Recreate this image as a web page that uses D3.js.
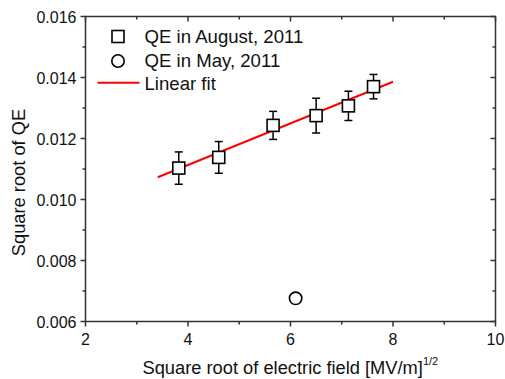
<!DOCTYPE html>
<html>
<head>
<meta charset="utf-8">
<script src="https://cdn.jsdelivr.net/npm/d3@7"></script>
<style>
  body { margin: 0; background: #fff; }
  text { font-family: "Liberation Sans", Arial, sans-serif; fill: #111; }
</style>
</head>
<body>
<div id="chart"></div>
<script>
// chart size
var width = 505,
    height = 379;
var margin = {top: 16.5, right: 9.5, bottom: 57.5, left: 85.5};

// August 2011 data (squares with error bars)
var augField = [3.82, 4.60, 5.66, 6.50, 7.13, 7.62];
var augQE    = [0.01103, 0.01138, 0.01243, 0.01275, 0.01307, 0.01370];
var augErr   = [0.00053, 0.00052, 0.00046, 0.00057, 0.00048, 0.00040];

// May 2011 data (circle)
var mayField = [6.10];
var mayQE    = [0.00676];

// linear fit end points
var fitField = [3.41, 8.0];
var fitQE    = [0.01073, 0.01386];

// ticks
var xTicks = [2, 4, 6, 8, 10];
var xMinor = [3, 5, 7, 9];
var yTicks = [0.006, 0.008, 0.010, 0.012, 0.014, 0.016];
var yMinor = [0.007, 0.009, 0.011, 0.013, 0.015];

var legendLabels = ["QE in August, 2011", "QE in May, 2011", "Linear fit"];

var svg = d3.select("#chart").append("svg")
    .attr("width", width)
    .attr("height", height);

var x = d3.scaleLinear().domain([2, 10]).range([margin.left, width - margin.right]);
var y = d3.scaleLinear().domain([0.006, 0.016]).range([height - margin.bottom, margin.top]);

var axisColor = "#333";

// frame
svg.append("rect")
    .attr("x", x(2)).attr("y", y(0.016))
    .attr("width", x(10) - x(2)).attr("height", y(0.006) - y(0.016))
    .attr("fill", "none").attr("stroke", axisColor).attr("stroke-width", 1.5);

// bottom ticks (outward) and top ticks (inward)
function drawXTicks(vals, len) {
  svg.append("g").selectAll("line").data(vals).enter().append("line")
    .attr("x1", function(d) { return x(d); }).attr("x2", function(d) { return x(d); })
    .attr("y1", y(0.006)).attr("y2", y(0.006) + len)
    .attr("stroke", axisColor).attr("stroke-width", 1.5);
  svg.append("g").selectAll("line").data(vals).enter().append("line")
    .attr("x1", function(d) { return x(d); }).attr("x2", function(d) { return x(d); })
    .attr("y1", y(0.016)).attr("y2", y(0.016) + len)
    .attr("stroke", axisColor).attr("stroke-width", 1.5);
}
drawXTicks(xTicks, 5);
drawXTicks(xMinor, 3);

// left ticks (outward) and right ticks (inward)
function drawYTicks(vals, len) {
  svg.append("g").selectAll("line").data(vals).enter().append("line")
    .attr("y1", function(d) { return y(d); }).attr("y2", function(d) { return y(d); })
    .attr("x1", x(2)).attr("x2", x(2) - len)
    .attr("stroke", axisColor).attr("stroke-width", 1.5);
  svg.append("g").selectAll("line").data(vals).enter().append("line")
    .attr("y1", function(d) { return y(d); }).attr("y2", function(d) { return y(d); })
    .attr("x1", x(10)).attr("x2", x(10) - len)
    .attr("stroke", axisColor).attr("stroke-width", 1.5);
}
drawYTicks(yTicks, 5);
drawYTicks(yMinor, 3);

// tick labels
svg.append("g").selectAll("text").data(xTicks).enter().append("text")
    .attr("x", function(d) { return x(d); })
    .attr("y", y(0.006) + 23)
    .attr("text-anchor", "middle")
    .style("font-size", "16px")
    .text(function(d) { return d; });

svg.append("g").selectAll("text").data(yTicks).enter().append("text")
    .attr("x", x(2) - 9)
    .attr("y", function(d) { return y(d) + 6; })
    .attr("text-anchor", "end")
    .style("font-size", "16px")
    .text(function(d) { return d.toFixed(3); });

// axis titles
var xt = svg.append("text")
    .attr("x", 142.5)
    .attr("y", 374)
    .style("font-size", "18.3px")
    .text("Square root of electric field [MV/m]");
xt.append("tspan")
    .attr("dy", -9)
    .style("font-size", "11px")
    .text("1/2");

svg.append("text")
    .attr("transform", "translate(25,182.5) rotate(-90)")
    .attr("text-anchor", "middle")
    .style("font-size", "18.3px")
    .text("Square root of QE");

// linear fit
svg.append("line")
    .attr("x1", x(fitField[0])).attr("y1", y(fitQE[0]))
    .attr("x2", x(fitField[1])).attr("y2", y(fitQE[1]))
    .attr("stroke", "#f00").attr("stroke-width", 2);

// error bars
var aug = augField.map(function(f, i) { return {f: f, q: augQE[i], e: augErr[i]}; });
var eb = svg.append("g").attr("stroke", "#000").attr("stroke-width", 1.5);
aug.forEach(function(d) {
  eb.append("line")
    .attr("x1", x(d.f)).attr("x2", x(d.f))
    .attr("y1", y(d.q - d.e)).attr("y2", y(d.q + d.e));
  eb.append("line")
    .attr("x1", x(d.f) - 4).attr("x2", x(d.f) + 4)
    .attr("y1", y(d.q - d.e)).attr("y2", y(d.q - d.e));
  eb.append("line")
    .attr("x1", x(d.f) - 4).attr("x2", x(d.f) + 4)
    .attr("y1", y(d.q + d.e)).attr("y2", y(d.q + d.e));
});

// squares
svg.append("g").selectAll("rect").data(aug).enter().append("rect")
    .attr("x", function(d) { return x(d.f) - 6; })
    .attr("y", function(d) { return y(d.q) - 6; })
    .attr("width", 12).attr("height", 12)
    .attr("fill", "#fff").attr("stroke", "#000").attr("stroke-width", 1.6);

// circle
svg.append("g").selectAll("circle").data(mayField).enter().append("circle")
    .attr("cx", function(d) { return x(d); })
    .attr("cy", function(d, i) { return y(mayQE[i]); })
    .attr("r", 6.2)
    .attr("fill", "#fff").attr("stroke", "#000").attr("stroke-width", 1.6);

// legend
var lg = svg.append("g");
lg.append("rect").attr("x", 112).attr("y", 30.5).attr("width", 12).attr("height", 12)
    .attr("fill", "#fff").attr("stroke", "#000").attr("stroke-width", 1.6);
lg.append("circle").attr("cx", 118).attr("cy", 61).attr("r", 6.2)
    .attr("fill", "#fff").attr("stroke", "#000").attr("stroke-width", 1.6);
lg.append("line").attr("x1", 97.5).attr("x2", 139.5).attr("y1", 82.7).attr("y2", 82.7)
    .attr("stroke", "#f00").attr("stroke-width", 2);
lg.selectAll("text").data(legendLabels).enter().append("text")
    .attr("x", 144.5)
    .attr("y", function(d, i) { return 43 + i * 23.5; })
    .style("font-size", "18.6px")
    .text(function(d) { return d; });
</script>
</body>
</html>
